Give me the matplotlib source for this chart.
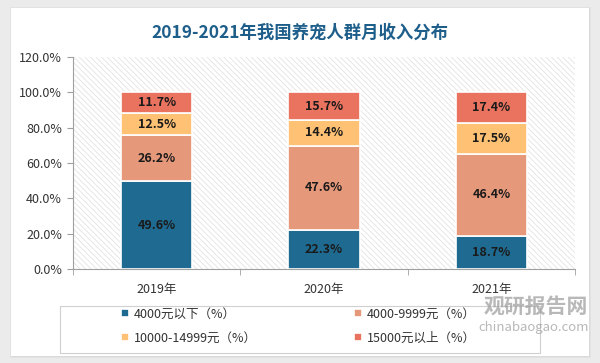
import matplotlib
matplotlib.use("Agg")
import matplotlib.pyplot as plt
from matplotlib.patches import Rectangle
import numpy as np

plt.rcParams['font.family'] = ['Noto Sans CJK SC', 'DejaVu Sans']
plt.rcParams['hatch.linewidth'] = 0.5

years = ['2019年', '2020年', '2021年']
below_4000 = [49.6, 22.3, 18.7]
r4000_9999 = [26.2, 47.6, 46.4]
r10000_14999 = [12.5, 14.4, 17.5]
above_15000 = [11.7, 15.7, 17.4]

series = [below_4000, r4000_9999, r10000_14999, above_15000]
names = ['4000元以下（%）', '4000-9999元（%）', '10000-14999元（%）', '15000元以上（%）']
colors = ['#1F6A91', '#E6997A', '#FFC174', '#E9735F']
yticks = [0, 20, 40, 60, 80, 100, 120]


def main():
    fig = plt.figure(figsize=(6.0, 3.63), dpi=100)
    fig.patch.set_facecolor('#EBEBEB')
    W, H = 600, 363

    # card with a soft shadow
    for i, c in enumerate(['#E2E2E2', '#DADADA']):
        fig.patches.append(Rectangle(((10 + i) / W, 1 - (358 - i) / H), (581 - 2 * i) / W, (351 - 2 * i) / H,
                                     transform=fig.transFigure, facecolor=c, edgecolor='none', zorder=-3))
    fig.patches.append(Rectangle((11 / W, 1 - 356 / H), 578 / W, 348 / H,
                                 transform=fig.transFigure, facecolor='white', edgecolor='none', zorder=-2))

    fig.text(0.5, 1 - 33 / H, '2019-2021年我国养宠人群月收入分布', ha='center', va='center',
             fontsize=12.5, fontweight='bold', color='#1E5E8A')

    ax = fig.add_axes([73 / W, 1 - 269 / H, 502 / W, 212 / H])
    ax.patch.set_alpha(0)
    ax.add_patch(Rectangle((0, 0), 1, 1, transform=ax.transAxes, facecolor='white',
                           edgecolor='#DEDEDE', linewidth=0, hatch='\\\\\\\\\\\\', zorder=0))

    x = np.arange(len(years))
    bottom = np.zeros(len(years))
    handles = []
    for vals, name, col in zip(series, names, colors):
        b = ax.bar(x, vals, 0.425, bottom=bottom, color=col, edgecolor='white', linewidth=1.2,
                   label=name, zorder=3)
        handles.append(b)
        for xi, v, b0 in zip(x, vals, bottom):
            ax.text(xi, b0 + v / 2, f'{v:.1f}%', ha='center', va='center', fontsize=9,
                    fontweight='bold', color='#1A1A1A', zorder=4)
        bottom += np.array(vals)

    ax.set_xlim(-0.5, 2.5)
    ax.set_ylim(0, 120)
    ax.set_yticks(yticks)
    ax.set_yticklabels([f'{t:.1f}%' for t in yticks], fontsize=9, color='#333333')
    ax.set_xticks(x)
    ax.set_xticklabels(years, fontsize=9, color='#333333')
    ax.tick_params(axis='x', which='major', length=0, pad=10)
    ax.set_xticks([-0.5, 0.5, 1.5, 2.5], minor=True)
    ax.tick_params(axis='x', which='minor', length=4, color='#A0A0A0', direction='out')
    ax.tick_params(axis='y', length=4, color='#A0A0A0', pad=4)
    for s in ['top', 'right']:
        ax.spines[s].set_visible(False)
    for s in ['left', 'bottom']:
        ax.spines[s].set_color('#A0A0A0')
        ax.spines[s].set_linewidth(0.8)

    # legend box
    fig.patches.append(Rectangle((60 / W, 1 - 353 / H), 480 / W, 47 / H, transform=fig.transFigure,
                                 facecolor='none', edgecolor='#D0D0D0', linewidth=0.8, zorder=1))
    order = [0, 2, 1, 3]
    leg = fig.legend(handles=[handles[i] for i in order], labels=[names[i] for i in order],
                     ncol=2, loc='center left',
                     bbox_to_anchor=(110 / W, 1 - 326 / H), frameon=False, fontsize=9,
                     handlelength=0.6, handleheight=0.6, handletextpad=0.4,
                     columnspacing=7.8, labelspacing=0.9)
    for t in leg.get_texts():
        t.set_color('#333333')

    # watermark
    fig.text(536 / W, 1 - 306 / H, '观研报告网', ha='center', va='center', fontsize=15,
             fontweight='bold', color='#9A9A9A', alpha=0.7, zorder=5)
    fig.text(534 / W, 1 - 327 / H, 'chinabaogao.com', ha='center', va='center', fontsize=9.5,
             color='#9A9A9A', alpha=0.7, zorder=5)

    fig.savefig('out.png', dpi=100, facecolor=fig.get_facecolor())
    return


if __name__ == '__main__':
    main()
